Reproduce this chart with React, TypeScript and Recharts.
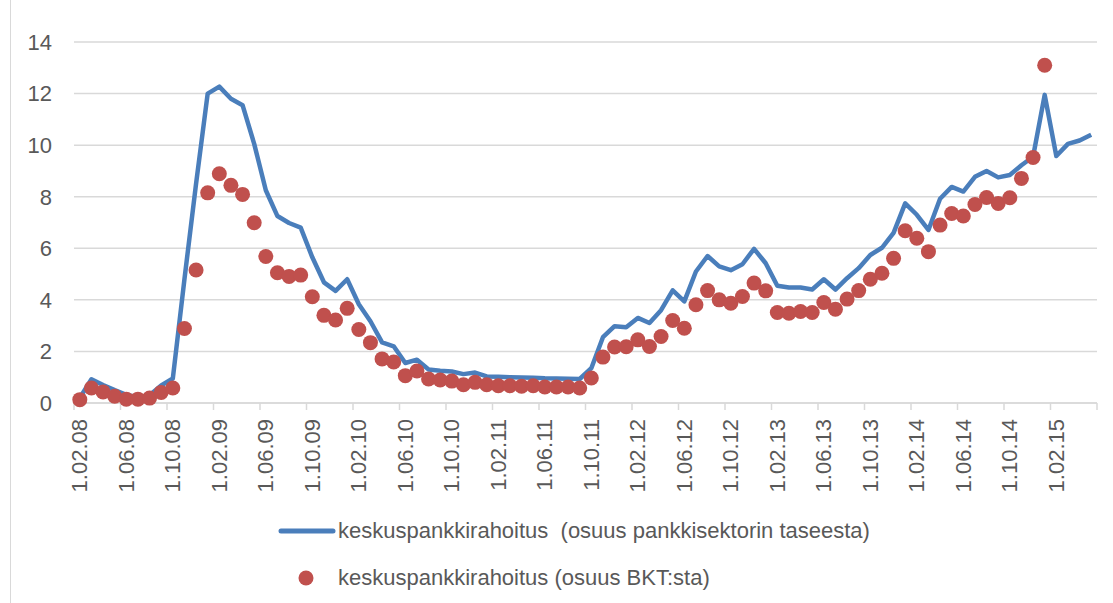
import React from "react";
import {
  ComposedChart, Line, Scatter, XAxis, YAxis, CartesianGrid, Legend
} from "recharts";

// monthly observations, 1.02.08 .. 1.05.15
const MONTH_LABELS = [
  "1.02.08", "1.03.08", "1.04.08", "1.05.08", "1.06.08", "1.07.08", "1.08.08", "1.09.08", "1.10.08", "1.11.08", "1.12.08",
  "1.01.09", "1.02.09", "1.03.09", "1.04.09", "1.05.09", "1.06.09", "1.07.09", "1.08.09", "1.09.09", "1.10.09", "1.11.09", "1.12.09",
  "1.01.10", "1.02.10", "1.03.10", "1.04.10", "1.05.10", "1.06.10", "1.07.10", "1.08.10", "1.09.10", "1.10.10", "1.11.10", "1.12.10",
  "1.01.11", "1.02.11", "1.03.11", "1.04.11", "1.05.11", "1.06.11", "1.07.11", "1.08.11", "1.09.11", "1.10.11", "1.11.11", "1.12.11",
  "1.01.12", "1.02.12", "1.03.12", "1.04.12", "1.05.12", "1.06.12", "1.07.12", "1.08.12", "1.09.12", "1.10.12", "1.11.12", "1.12.12",
  "1.01.13", "1.02.13", "1.03.13", "1.04.13", "1.05.13", "1.06.13", "1.07.13", "1.08.13", "1.09.13", "1.10.13", "1.11.13", "1.12.13",
  "1.01.14", "1.02.14", "1.03.14", "1.04.14", "1.05.14", "1.06.14", "1.07.14", "1.08.14", "1.09.14", "1.10.14", "1.11.14", "1.12.14",
  "1.01.15", "1.02.15", "1.03.15", "1.04.15", "1.05.15",
];

// osuus pankkisektorin taseesta (%)
const BANK_SHARE = [
  0.2, 0.92, 0.7, 0.5, 0.32, 0.22, 0.3, 0.68, 0.95, 4.8,
  8.5, 12.0, 12.27, 11.8, 11.55, 10.05, 8.25, 7.25, 6.98, 6.8,
  5.65, 4.68, 4.35, 4.8, 3.83, 3.17, 2.35, 2.2, 1.55, 1.68,
  1.3, 1.25, 1.22, 1.12, 1.18, 1.03, 1.02, 1.0, 0.99, 0.98,
  0.96, 0.95, 0.94, 0.93, 1.35, 2.55, 2.98, 2.94, 3.3, 3.1,
  3.6, 4.37, 3.94, 5.1, 5.7, 5.3, 5.15, 5.38, 5.98, 5.42,
  4.55, 4.48, 4.48, 4.4, 4.8, 4.4, 4.84, 5.23, 5.74, 6.02,
  6.6, 7.74, 7.3, 6.71, 7.92, 8.38, 8.2, 8.77, 9.0, 8.75,
  8.84, 9.22, 9.55, 11.95, 9.58, 10.05, 10.18, 10.4,
];

// osuus BKT:sta (%), ends 1.01.15
const GDP_SHARE = [
  0.13, 0.58, 0.43, 0.26, 0.15, 0.15, 0.19, 0.41, 0.58, 2.89,
  5.16, 8.15, 8.89, 8.44, 8.09, 6.99, 5.68, 5.05, 4.91, 4.96,
  4.12, 3.4, 3.22, 3.67, 2.85, 2.34, 1.71, 1.59, 1.06, 1.24,
  0.93, 0.89, 0.85, 0.71, 0.8, 0.71, 0.67, 0.67, 0.65, 0.67,
  0.62, 0.62, 0.62, 0.58, 0.97, 1.78, 2.17, 2.18, 2.45, 2.19,
  2.58, 3.2, 2.9, 3.81, 4.36, 4.0, 3.87, 4.13, 4.65, 4.35,
  3.51, 3.48, 3.55, 3.51, 3.9, 3.64, 4.03, 4.36, 4.8, 5.03,
  5.61, 6.68, 6.39, 5.87, 6.9, 7.35, 7.25, 7.7, 7.97, 7.74,
  7.96, 8.71, 9.52, 13.1,
];

// tick marks sit between months, every 4th
const X_TICKS = [0, 4, 8, 12, 16, 20, 24, 28, 32, 36, 40, 44, 48, 52, 56, 60, 64, 68, 72, 76, 80, 84, 88];
const Y_TICKS = [0, 2, 4, 6, 8, 10, 12, 14];

const BANK_LABEL = "keskuspankkirahoitus\u00a0 (osuus pankkisektorin taseesta)";
const GDP_LABEL = "keskuspankkirahoitus (osuus BKT:sta)";

const BLUE = "#4a7ebb";
const RED = "#c0504d";
const GRID = "#d9d9d9";
const TEXT = "#595959";
const FONT = "'Liberation Sans', Arial, sans-serif";

const lineData = MONTH_LABELS.map((label, i) => ({ x: i + 0.5, label, bank: BANK_SHARE[i] }));
const dotData = GDP_SHARE.map((v, i) => ({ x: i + 0.5, gdp: v }));

function MonthTick({ x, y, payload }: any) {
  const label = MONTH_LABELS[payload.value];
  if (!label) return null;
  const cx = x + 5.8; // label centred in its month
  return (
    <text
      x={cx} y={y} dy="0.35em"
      transform={`rotate(-90, ${cx}, ${y})`}
      textAnchor="end" fill={TEXT} fontSize={22} fontFamily={FONT}
    >
      {label}
    </text>
  );
}

function Dot(props: any) {
  return <circle cx={props.cx} cy={props.cy} r={7.5} fill={RED} />;
}

function LegendBox() {
  const row = { display: "flex", alignItems: "center", height: 47 } as const;
  return (
    <div style={{ fontFamily: FONT, fontSize: 22, color: TEXT, whiteSpace: "nowrap" }}>
      <div style={row}>
        <svg width={60} height={10}>
          <line x1={3} y1={5} x2={55} y2={5} stroke={BLUE} strokeWidth={5} strokeLinecap="round" />
        </svg>
        <span>{BANK_LABEL}</span>
      </div>
      <div style={row}>
        <svg width={60} height={16}>
          <circle cx={28} cy={8} r={7.5} fill={RED} />
        </svg>
        <span>{GDP_LABEL}</span>
      </div>
    </div>
  );
}

export default function App() {
  return (
    <div style={{ position: "absolute", left: 0, top: 0, width: 1113, height: 603, background: "#fff", overflow: "hidden" }}>
      <div style={{ position: "absolute", left: 10, top: -2, width: 1110, height: 610, border: `1px solid ${GRID}` }} />
      <ComposedChart
        width={1113} height={603} data={lineData}
        margin={{ top: 42, right: 16, left: 0, bottom: 107 }}
        style={{ position: "absolute", left: 0, top: 0 }}
      >
        <CartesianGrid stroke={GRID} strokeWidth={1.5} vertical={false} />
        <XAxis
          dataKey="x" type="number" domain={[0, 88]} ticks={X_TICKS} interval={0}
          height={93} tick={<MonthTick />}
          tickSize={7} tickMargin={9}
          axisLine={{ stroke: GRID, strokeWidth: 1.5 }}
          tickLine={{ stroke: GRID, strokeWidth: 1.5 }}
        />
        <YAxis
          domain={[0, 14]} ticks={Y_TICKS} interval={0} width={74}
          axisLine={false} tickLine={false} tickSize={0} tickMargin={22}
          tick={{ fill: TEXT, fontSize: 22, fontFamily: FONT }}
        />
        <Line
          dataKey="bank" type="linear" stroke={BLUE} strokeWidth={4.5}
          dot={false} activeDot={false} isAnimationActive={false}
          strokeLinejoin="round"
        />
        <Scatter data={dotData} dataKey="gdp" fill={RED} shape={<Dot />} isAnimationActive={false} />
        <Legend
          layout="horizontal" verticalAlign="middle" align="center"
          wrapperStyle={{ top: 507, left: 278, width: 700, height: 94 }}
          content={<LegendBox />}
        />
      </ComposedChart>
    </div>
  );
}
